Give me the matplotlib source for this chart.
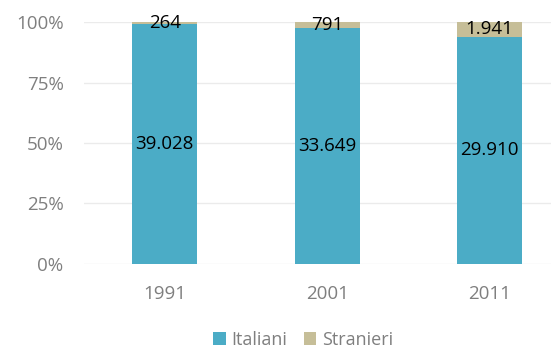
import matplotlib
matplotlib.use("Agg")
import matplotlib.pyplot as plt
import numpy as np

years = ["1991", "2001", "2011"]
italiani = [39028, 33649, 29910]
stranieri = [264, 791, 1941]
series_names = ["Italiani", "Stranieri"]
yticks = [0, 25, 50, 75, 100]

col_it = "#4BACC6"
col_st = "#C6BE98"
font = ["Open Sans", "DejaVu Sans"]
plt.rcParams["font.family"] = font

def fmt(v):
    return f"{v:,}".replace(",", ".")

fig = plt.figure(figsize=(5.51, 3.51), dpi=100)
ax = fig.add_axes([0.152, 0.248, 0.848, 0.689])

tot = np.array(italiani) + np.array(stranieri)
p_it = np.array(italiani) / tot * 100
p_st = np.array(stranieri) / tot * 100
x = np.arange(len(years))
w = 0.40
ax.bar(x, p_it, w, color=col_it, label=series_names[0], zorder=2)
ax.bar(x, p_st, w, bottom=p_it, color=col_st, label=series_names[1], zorder=2)

for i in range(len(years)):
    ax.text(x[i], p_it[i] / 2, fmt(italiani[i]), ha="center", va="center",
            fontsize=13.5, color="black", zorder=3)
    ax.text(x[i], p_it[i] + p_st[i] / 2, fmt(stranieri[i]), ha="center", va="center",
            fontsize=13.5, color="black", zorder=3)

ax.set_xlim(-0.5, 2.38)
ax.set_ylim(0, 100)
ax.set_yticks(yticks)
ax.set_yticklabels([f"{t}%" for t in yticks])
ax.set_xticks(x)
ax.set_xticklabels(years)
ax.tick_params(axis="both", length=0, colors="#7F7F7F", labelsize=13.5)
ax.tick_params(axis="y", pad=14.5)
ax.tick_params(axis="x", pad=15)
ax.grid(axis="y", color="#EBEBEB", linewidth=1, zorder=0)
for s in ax.spines.values():
    s.set_visible(False)

leg = fig.legend(loc="center", bbox_to_anchor=(0.55, 0.031), ncol=2, frameon=False,
                 handlelength=0.7, handleheight=0.7, handletextpad=0.3, columnspacing=0.9,
                 fontsize=13)
for t in leg.get_texts():
    t.set_color("#7F7F7F")

fig.savefig("out.png", dpi=100)
